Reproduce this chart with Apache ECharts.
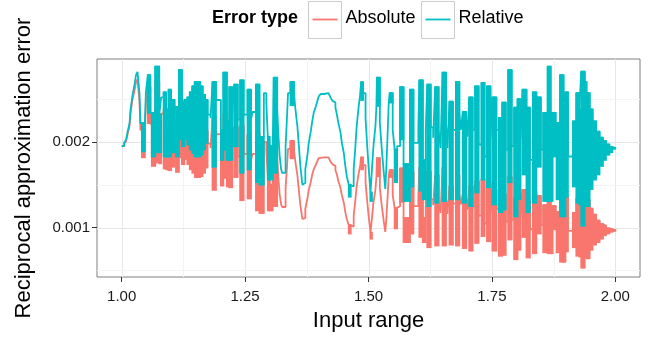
<!DOCTYPE html>
<html>
<head>
<meta charset="utf-8">
<title>Reciprocal approximation error</title>
<script src="https://cdn.jsdelivr.net/npm/echarts@6.0.0/dist/echarts.min.js"></script>
<style>
  html, body { margin: 0; padding: 0; background: #fff; }
  #chart { width: 652px; height: 337px; }
</style>
</head>
<body>
<div id="chart"></div>
<script>
// error values are in units of 1e-3
// [x, level] holds the level until the next x; [x, top, bottom] is a stretch
// where the error flips so fast that it paints a solid block
const relSteps = [
  [1.000,1.95],[1.005,1.99],[1.009,2.03],[1.012,2.12],[1.016,2.22],[1.018,2.38],[1.022,2.55],[1.026,2.67],[1.029,2.78],[1.032,2.82],[1.036,2.57],[1.038,2.22],
  [1.041,2.22,1.89],[1.047,2.20],[1.049,2.58],[1.053,2.78,2.34],[1.058,2.34],[1.061,2.34,1.83],[1.068,2.88,1.88],[1.076,2.32,1.88],[1.080,2.52],
  [1.085,2.58,1.83],[1.090,2.38,1.83],[1.095,2.61,1.83],[1.100,2.28],[1.101,2.49,1.88],[1.107,2.38],[1.110,2.41,1.83],[1.116,2.84,2.03],[1.122,2.46,1.95],
  [1.127,2.49,2.03],[1.133,2.52,1.97],[1.138,2.58,1.91],[1.143,2.65,1.87],[1.148,2.70,1.83],[1.153,2.70,1.83],[1.159,2.65,1.85],[1.164,2.55,1.91],[1.169,2.49,1.99],
  [1.174,2.32],[1.180,2.28],[1.184,2.70,1.71],[1.191,2.49],[1.201,2.14,1.79],[1.206,2.81,1.91],[1.213,2.24,1.79],[1.218,2.64,1.79],[1.224,2.32],[1.228,2.67,1.95],
  [1.235,2.26],[1.240,2.72,1.64],[1.247,2.32],[1.255,2.61,1.68],[1.262,2.26],[1.265,2.35],[1.272,2.67,1.53],[1.279,2.06,1.50],
  [1.288,2.57],[1.293,2.46],[1.296,2.06,1.56],[1.300,1.95,1.56],[1.306,1.95],[1.308,2.75,1.64],[1.315,2.38],[1.318,2.03],[1.320,1.84],[1.323,1.68],[1.325,1.64],
  [1.332,1.95],[1.335,2.30],[1.337,2.57],[1.342,2.70,2.43],[1.349,2.57],[1.352,2.38],[1.356,2.18],[1.359,1.95],[1.362,1.72],[1.366,1.50],[1.369,1.52],
  [1.372,1.68],[1.376,1.83],[1.379,1.99],[1.383,2.12],[1.386,2.24],[1.389,2.34],[1.393,2.41],[1.396,2.47],[1.399,2.53],[1.403,2.56],[1.410,2.57],
  [1.419,2.56],[1.423,2.52],[1.427,2.48],[1.429,2.46],[1.433,2.40],[1.436,2.32],[1.439,2.22],[1.443,2.12],[1.446,1.99],[1.450,1.87],[1.453,1.72],[1.456,1.60],
  [1.460,1.50,1.36],[1.464,1.48],[1.470,1.68],[1.473,1.91],[1.476,2.18],[1.480,2.41],[1.483,2.55],[1.485,2.70,2.49],[1.489,2.57],[1.494,2.28],[1.497,1.99],[1.500,1.72],
  [1.504,1.41,1.31],[1.507,1.68],[1.510,1.95],[1.514,2.18],[1.516,2.41],[1.517,2.75,2.42],[1.523,2.22],[1.527,1.91],[1.531,1.64],[1.534,1.45],[1.536,1.68],
  [1.539,2.14],[1.541,2.46],[1.543,2.57,2.46],[1.549,2.14],[1.553,1.91,1.53],[1.558,1.95],[1.564,2.64,2.03],[1.571,1.74,1.31],
  [1.584,2.61,1.48],[1.591,1.99],[1.601,2.17],[1.603,2.72,1.43],[1.610,1.79,1.33],[1.616,2.14],[1.619,2.67,1.25],[1.626,2.17],[1.631,2.05],[1.635,2.64,1.29],
  [1.642,2.14],[1.646,1.93],[1.650,2.81,1.31],[1.657,2.23],[1.660,1.93],[1.664,2.47,1.33],[1.671,2.14],[1.677,2.70,1.33],[1.684,2.34],[1.687,2.14],
  [1.691,2.35,1.29],[1.698,2.28],[1.701,2.06],[1.704,2.52,1.25],[1.711,2.14],[1.716,2.65,1.41],[1.723,1.97],
  [1.729,2.69,1.56],[1.735,1.83],[1.740,2.65,1.47],[1.747,2.03],[1.751,2.52,1.27],[1.759,2.14],[1.764,2.28,1.18],[1.771,2.46,1.21],[1.778,1.91],
  [1.783,2.84,1.53],[1.790,1.95],[1.795,2.40,1.13],[1.802,2.50,1.33],[1.808,2.03],[1.812,2.61,1.62],[1.820,2.40,1.18],[1.827,1.79],[1.833,2.58,1.29],
  [1.840,2.52,1.71],[1.849,1.91],[1.854,2.34,1.31],[1.863,2.88,1.31],[1.869,2.34,1.31],[1.873,2.34,1.83],[1.879,1.83],[1.881,2.22,1.33],[1.888,2.78,1.13],
  [1.895,2.43,1.13],[1.899,2.58,1.36],[1.904,1.83],[1.914,2.24,1.48],[1.921,2.57,1.29],[1.927,2.38,1.27],[1.931,2.82,1.02],[1.938,2.70,1.25],[1.942,2.57,1.25],
  [1.948,2.38,1.45],[1.954,2.24,1.56],[1.961,2.12,1.62],[1.968,2.05,1.72],[1.975,2.01,1.79],[1.981,1.97,1.85],[1.988,1.94,1.88],[1.994,1.93,1.92],[2.000,1.93]
];

const absSteps = [
  [1.000,1.95],[1.005,1.98],[1.009,2.01],[1.012,2.09],[1.016,2.19],[1.018,2.34],[1.022,2.50],[1.026,2.60],[1.029,2.70],[1.032,2.73],[1.036,2.48],[1.038,2.14],
  [1.041,2.13,1.82],[1.047,2.10],[1.049,2.46],[1.053,2.64,2.22],[1.058,2.21],[1.061,2.21,1.72],[1.068,2.70,1.76],[1.076,2.16,1.75],[1.080,2.33],
  [1.085,2.38,1.69],[1.090,2.18,1.68],[1.095,2.38,1.67],[1.100,2.07],[1.101,2.26,1.71],[1.107,2.15],[1.110,2.17,1.65],[1.116,2.54,1.82],[1.122,2.19,1.74],
  [1.127,2.21,1.80],[1.133,2.22,1.74],[1.138,2.27,1.68],[1.143,2.32,1.64],[1.148,2.35,1.59],[1.153,2.34,1.59],[1.159,2.29,1.60],[1.164,2.19,1.64],[1.169,2.13,1.70],
  [1.174,1.98],[1.180,1.93],[1.184,2.28,1.44],[1.191,2.09],[1.201,1.78,1.49],[1.206,2.33,1.58],[1.213,1.85,1.48],[1.218,2.17,1.47],[1.224,1.90],[1.228,2.17,1.59],
  [1.235,1.83],[1.240,2.19,1.32],[1.247,1.86],[1.255,2.08,1.34],[1.262,1.79],[1.265,1.86],[1.272,2.10,1.20],[1.279,1.61,1.17],
  [1.288,2.00],[1.293,1.90],[1.296,1.59,1.20],[1.300,1.50,1.20],[1.306,1.49],[1.308,2.10,1.25],[1.315,1.81],[1.318,1.54],[1.320,1.39],[1.323,1.27],[1.325,1.24],
  [1.332,1.46],[1.335,1.72],[1.337,1.92],[1.342,2.01,1.81],[1.349,1.91],[1.352,1.76],[1.356,1.61],[1.359,1.43],[1.362,1.26],[1.366,1.10],[1.369,1.11],
  [1.372,1.22],[1.376,1.33],[1.379,1.44],[1.383,1.53],[1.386,1.62],[1.389,1.68],[1.393,1.73],[1.396,1.77],[1.399,1.81],[1.403,1.82],[1.410,1.82],
  [1.419,1.80],[1.423,1.77],[1.427,1.74],[1.429,1.72],[1.433,1.67],[1.436,1.62],[1.439,1.54],[1.443,1.47],[1.446,1.38],[1.450,1.29],[1.453,1.18],[1.456,1.10],
  [1.460,1.03,0.93],[1.464,1.01],[1.470,1.14],[1.473,1.30],[1.476,1.48],[1.480,1.63],[1.483,1.72],[1.485,1.82,1.68],[1.489,1.73],[1.494,1.53],[1.497,1.33],[1.500,1.15],
  [1.504,0.94,0.87],[1.507,1.11],[1.510,1.29],[1.514,1.44],[1.516,1.59],[1.517,1.81,1.60],[1.523,1.46],[1.527,1.25],[1.531,1.07],[1.534,0.95],[1.536,1.09],
  [1.539,1.39],[1.541,1.60],[1.543,1.67,1.59],[1.549,1.38],[1.553,1.23,0.99],[1.558,1.25],[1.564,1.69,1.30],[1.571,1.11,0.83],
  [1.584,1.65,0.93],[1.591,1.25],[1.601,1.36],[1.603,1.70,0.89],[1.610,1.11,0.83],[1.616,1.32],[1.619,1.65,0.77],[1.626,1.33],[1.631,1.26],[1.635,1.61,0.79],
  [1.642,1.30],[1.646,1.17],[1.650,1.70,0.79],[1.657,1.35],[1.660,1.16],[1.664,1.48,0.80],[1.671,1.28],[1.677,1.61,0.79],[1.684,1.39],[1.687,1.27],
  [1.691,1.39,0.76],[1.698,1.34],[1.701,1.21],[1.704,1.48,0.73],[1.711,1.25],[1.716,1.54,0.82],[1.723,1.14],
  [1.729,1.56,0.90],[1.735,1.05],[1.740,1.52,0.84],[1.747,1.16],[1.751,1.44,0.73],[1.759,1.22],[1.764,1.29,0.67],[1.771,1.39,0.68],[1.778,1.07],
  [1.783,1.59,0.86],[1.790,1.09],[1.795,1.34,0.63],[1.802,1.39,0.74],[1.808,1.12],[1.812,1.44,0.89],[1.820,1.32,0.65],[1.827,0.98],[1.833,1.41,0.70],
  [1.840,1.37,0.93],[1.849,1.03],[1.854,1.26,0.71],[1.863,1.55,0.70],[1.869,1.25,0.70],[1.873,1.25,0.98],[1.879,0.97],[1.881,1.18,0.71],[1.888,1.47,0.60],
  [1.895,1.28,0.60],[1.899,1.36,0.72],[1.904,0.96],[1.914,1.17,0.77],[1.921,1.34,0.67],[1.927,1.24,0.66],[1.931,1.46,0.53],[1.938,1.39,0.65],[1.942,1.32,0.64],
  [1.948,1.22,0.74],[1.954,1.15,0.80],[1.961,1.08,0.83],[1.968,1.04,0.87],[1.975,1.02,0.91],[1.981,0.99,0.93],[1.988,0.98,0.95],[1.994,0.97,0.96],[2.000,0.97]
];

const xTicks = [1.00, 1.25, 1.50, 1.75, 2.00];
const xMinorTicks = [1.125, 1.375, 1.625, 1.875];
const yTicks = [0.001, 0.002];
const yMinorTicks = [0.0005, 0.0015, 0.0025];
const seriesNames = ['Absolute', 'Relative'];

const X_MIN = 0.95, X_MAX = 2.05;
const Y_MIN = 0.000422, Y_MAX = 0.002969;
const FONT = '"Liberation Sans", Arial, Helvetica, sans-serif';
const absColor = '#F8766D';
const relColor = '#00BFC4';
const LINE_W = 1.8;

function lineData(steps) {
  return steps.map(s => [s[0], s[1] / 1000]);
}

function bandData(steps) {
  let out = [];
  for (let i = 0; i < steps.length - 1; i++) {
    let s = steps[i];
    if (s.length === 3) {
      out.push([s[0], steps[i + 1][0], s[2] / 1000, s[1] / 1000]);
    }
  }
  return out;
}

function bandRenderer(color) {
  return function (params, api) {
    let tl = api.coord([api.value(0), api.value(3)]);
    let br = api.coord([api.value(1), api.value(2)]);
    let h = LINE_W / 2;
    return {
      type: 'rect',
      shape: { x: tl[0] - h, y: tl[1] - h, width: br[0] - tl[0] + 2 * h, height: br[1] - tl[1] + 2 * h },
      style: { fill: color }
    };
  };
}

function gridRenderer(vertical) {
  return function (params, api) {
    let v = api.value(0);
    let major = api.value(1) === 1;
    let p0 = vertical ? api.coord([v, Y_MIN]) : api.coord([X_MIN, v]);
    let p1 = vertical ? api.coord([v, Y_MAX]) : api.coord([X_MAX, v]);
    let shape = vertical
      ? { x1: Math.round(p0[0]) + 0.5, y1: p0[1], x2: Math.round(p0[0]) + 0.5, y2: p1[1] }
      : { x1: p0[0], y1: Math.round(p0[1]) + 0.5, x2: p1[0], y2: Math.round(p0[1]) + 0.5 };
    return {
      type: 'line',
      shape: shape,
      style: { stroke: major ? '#e6e6e6' : '#f4f4f4', lineWidth: 1 }
    };
  };
}

const vGrid = xMinorTicks.map(v => [v, 0]).concat(xTicks.map(v => [v, 1]));
const hGrid = yMinorTicks.map(v => [v, 0]).concat(yTicks.map(v => [v, 1]));

const chart = echarts.init(document.getElementById('chart'));

const option = {
  animation: false,
  backgroundColor: '#ffffff',
  textStyle: { fontFamily: FONT },
  grid: {
    left: 97, right: 12, top: 59, bottom: 59,
    show: true, borderColor: '#7f7f7f', borderWidth: 1, backgroundColor: '#ffffff'
  },
  xAxis: {
    type: 'value',
    min: X_MIN,
    max: X_MAX,
    name: 'Input range',
    nameLocation: 'middle',
    nameGap: 33,
    nameTextStyle: { fontSize: 22, color: '#000', fontFamily: FONT },
    axisLine: { show: false },
    axisTick: { show: true, customValues: xTicks, length: 5, lineStyle: { color: '#333' } },
    axisLabel: {
      customValues: xTicks, margin: 12, fontSize: 15, color: '#1a1a1a', fontFamily: FONT,
      formatter: v => v.toFixed(2)
    },
    splitLine: { show: false }
  },
  yAxis: {
    type: 'value',
    min: Y_MIN,
    max: Y_MAX,
    name: 'Reciprocal approximation error',
    nameLocation: 'middle',
    nameRotate: 90,
    nameGap: 62,
    nameTextStyle: { fontSize: 22, color: '#000', fontFamily: FONT },
    axisLine: { show: false },
    axisTick: { show: true, customValues: yTicks, length: 5, lineStyle: { color: '#333' } },
    axisLabel: {
      customValues: yTicks, margin: 7, fontSize: 15, color: '#1a1a1a', fontFamily: FONT,
      formatter: v => v.toFixed(3)
    },
    splitLine: { show: false }
  },
  graphic: [
    { type: 'text', left: 212, top: 9, style: { text: 'Error type', font: 'bold 18px ' + FONT, fill: '#000' } },
    { type: 'rect', shape: { x: 308.5, y: 1.5, width: 33, height: 37 }, style: { fill: '#fff', stroke: '#cccccc', lineWidth: 1 } },
    { type: 'line', shape: { x1: 312.5, y1: 19.5, x2: 337.5, y2: 19.5 }, style: { stroke: absColor, lineWidth: LINE_W } },
    { type: 'text', left: 345.5, top: 9, style: { text: seriesNames[0], font: '18px ' + FONT, fill: '#000' } },
    { type: 'rect', shape: { x: 421.5, y: 1.5, width: 33, height: 37 }, style: { fill: '#fff', stroke: '#cccccc', lineWidth: 1 } },
    { type: 'line', shape: { x1: 425.5, y1: 19.5, x2: 450.5, y2: 19.5 }, style: { stroke: relColor, lineWidth: LINE_W } },
    { type: 'text', left: 458.5, top: 9, style: { text: seriesNames[1], font: '18px ' + FONT, fill: '#000' } }
  ],
  series: [
    {
      type: 'custom', name: 'vgrid', silent: true, z: 0,
      renderItem: gridRenderer(true), data: vGrid, encode: { x: 0 }
    },
    {
      type: 'custom', name: 'hgrid', silent: true, z: 0,
      renderItem: gridRenderer(false), data: hGrid, encode: { y: 0 }
    },
    {
      type: 'line', name: seriesNames[0], data: lineData(absSteps), step: 'end',
      showSymbol: false, symbol: 'none', z: 2,
      lineStyle: { color: absColor, width: LINE_W }, itemStyle: { color: absColor }
    },
    {
      type: 'custom', name: seriesNames[0] + ' band', z: 2,
      renderItem: bandRenderer(absColor), data: bandData(absSteps), encode: { x: [0, 1], y: [2, 3] }
    },
    {
      type: 'line', name: seriesNames[1], data: lineData(relSteps), step: 'end',
      showSymbol: false, symbol: 'none', z: 3,
      lineStyle: { color: relColor, width: LINE_W }, itemStyle: { color: relColor }
    },
    {
      type: 'custom', name: seriesNames[1] + ' band', z: 3,
      renderItem: bandRenderer(relColor), data: bandData(relSteps), encode: { x: [0, 1], y: [2, 3] }
    }
  ]
};

chart.setOption(option);
</script>
</body>
</html>
